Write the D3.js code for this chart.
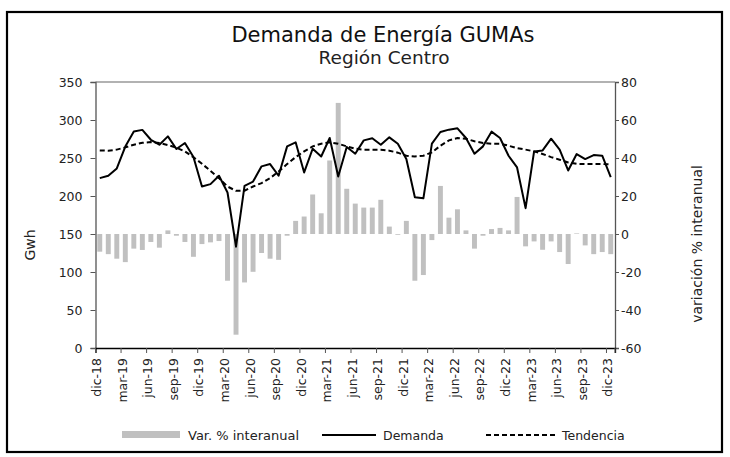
<!DOCTYPE html>
<html><head><meta charset="utf-8">
<script src="https://cdn.jsdelivr.net/npm/d3@7"></script>
<style>
html,body{margin:0;padding:0;background:#fff;}
svg{display:block;font-family:"DejaVu Sans",sans-serif;}
</style></head>
<body>
<script>
const meses = ["dic-18","ene-19","feb-19","mar-19","abr-19","may-19","jun-19","jul-19","ago-19","sep-19","oct-19","nov-19",
"dic-19","ene-20","feb-20","mar-20","abr-20","may-20","jun-20","jul-20","ago-20","sep-20","oct-20","nov-20",
"dic-20","ene-21","feb-21","mar-21","abr-21","may-21","jun-21","jul-21","ago-21","sep-21","oct-21","nov-21",
"dic-21","ene-22","feb-22","mar-22","abr-22","may-22","jun-22","jul-22","ago-22","sep-22","oct-22","nov-22",
"dic-22","ene-23","feb-23","mar-23","abr-23","may-23","jun-23","jul-23","ago-23","sep-23","oct-23","nov-23","dic-23"];
const variacion = [-9.3,-10.6,-13.0,-14.8,-7.7,-8.4,-4.2,-7.2,1.9,-0.9,-4.2,-12.0,
-5.3,-4.4,-3.7,-24.6,-53.0,-25.5,-19.9,-10.0,-13.0,-13.6,-0.9,6.9,
9.2,20.8,10.9,38.7,69.0,23.8,16.0,13.9,13.9,18.0,3.9,-0.4,
6.9,-24.6,-21.6,-3.2,25.3,8.6,13.0,1.9,-7.7,-0.9,2.6,3.2,
1.9,19.5,-6.5,-3.9,-8.3,-3.9,-9.5,-15.8,0.3,-6.0,-10.6,-9.5,-10.6];
const demanda = [223.5,226.6,236.3,265,285,287,274,267.5,278.5,261.8,269.7,251.2,
212.5,215.6,226.6,204.6,133.3,213.4,219,239,242,226.6,265.3,270.6,
231,262.2,252,276.3,225.7,264.4,255.6,273.2,275.9,267.5,277.2,268.8,
248.6,198.4,197,268.8,284.2,287.3,289,276.3,255.6,265.3,284.7,276.3,
253,237.6,184,258.7,260,275.4,261,233.6,255.2,248.6,253.9,253,224.8];
const tendencia = [260,259.6,261,264,267.5,270,271,269.7,267,263.6,258.7,251,
242.4,233,223.5,212.5,206.8,207,212.5,217,223.5,232.3,242,251.2,
258.7,265.3,268.8,270.6,268.8,265.3,262.2,261,261,261,259.6,257,
253,252.1,253,257.4,266.2,273.2,276.3,275.4,272,269.7,268.8,268.8,
266.2,263,261,258.7,255.2,251.2,247.7,244.2,242.4,242,242,242,241.6];
const ticksIzq = [0,50,100,150,200,250,300,350];
const ticksDer = [-60,-40,-20,0,20,40,60,80];
const titulo = "Demanda de Energía GUMAs";
const subtitulo = "Región Centro";
const leyenda = ["Var. % interanual","Demanda","Tendencia"];

const W = 730, H = 457;
const m = {l:95.5, r:615, t:82, b:348};
const svg = d3.select("body").append("svg").attr("width",W).attr("height",H);

// frame
svg.append("rect").attr("x",7).attr("y",12).attr("width",715).attr("height",440)
  .attr("fill","none").attr("stroke","#000").attr("stroke-width",2.2);

const x = d3.scaleBand().domain(meses).range([m.l,m.r]).paddingInner(0.42).paddingOuter(0.21);
const xc = d3.scaleBand().domain(meses).range([m.l,m.r]);
const yL = d3.scaleLinear().domain([0,350]).range([m.b,m.t]);
const yR = d3.scaleLinear().domain([-60,80]).range([m.b,m.t]);

// title
svg.append("text").attr("x",383).attr("y",42).attr("text-anchor","middle")
  .attr("font-size",21).attr("fill","#111").text(titulo);
svg.append("text").attr("x",384).attr("y",64).attr("text-anchor","middle")
  .attr("font-size",18.5).attr("fill","#222").text(subtitulo);

// bars
svg.append("g").selectAll("rect").data(meses).join("rect")
  .attr("x",d=>x(d)).attr("width",x.bandwidth())
  .attr("y",(d,i)=>Math.min(yR(0),yR(variacion[i])))
  .attr("height",(d,i)=>Math.abs(yR(variacion[i])-yR(0)))
  .attr("fill","#c0c0c0");

// lines
const lineD = d3.line().x((d,i)=>xc(meses[i])+xc.bandwidth()/2).y(d=>yL(d));
svg.append("path").datum(tendencia).attr("d",lineD).attr("fill","none")
  .attr("stroke","#000").attr("stroke-width",2).attr("stroke-dasharray","5,3");
svg.append("path").datum(demanda).attr("d",lineD).attr("fill","none")
  .attr("stroke","#000").attr("stroke-width",2).attr("stroke-linejoin","round");

// axes
const fmt = d => String(d);
const axL = d3.axisLeft(yL).tickValues(ticksIzq).tickFormat(fmt).tickSize(5).tickPadding(8);
const gL = svg.append("g").attr("transform",`translate(${m.l},0)`).call(axL);
const axR = d3.axisRight(yR).tickValues(ticksDer).tickFormat(fmt).tickSize(4).tickPadding(2);
const gR = svg.append("g").attr("transform",`translate(${m.r},0)`).call(axR);
svg.append("line").attr("x1",m.l).attr("x2",m.r).attr("y1",m.t).attr("y2",m.t).attr("stroke","#666").attr("stroke-width",1.2);

const tickIdx = meses.filter((d,i)=>i%3===0);
const axB = d3.axisBottom(xc).tickValues(tickIdx).tickSize(5).tickPadding(6);
const gB = svg.append("g").attr("transform",`translate(0,${m.b})`).call(axB);
gB.selectAll(".tick line").attr("transform",`translate(${-xc.bandwidth()/2},0)`);
gB.selectAll(".tick text").attr("transform","rotate(-90)").attr("text-anchor","end")
  .attr("dx","0").attr("dy","0").attr("x",-10).attr("y",1.5);
gB.append("line").attr("x1",m.r).attr("x2",m.r).attr("y1",0).attr("y2",5).attr("stroke","#555");

[gL,gR,gB].forEach(g=>{
  g.selectAll("text").attr("font-size",12.5).attr("fill","#222").attr("font-family","DejaVu Sans");
  g.selectAll(".domain").attr("stroke","#555").attr("stroke-width",1.3);
  g.selectAll(".tick line").attr("stroke","#555");
});
gB.select(".domain").attr("stroke","#000");

// axis titles
svg.append("text").attr("transform",`translate(35,245) rotate(-90)`).attr("text-anchor","middle")
  .attr("font-size",14).attr("fill","#222").text("Gwh");
svg.append("text").attr("transform",`translate(702,244) rotate(-90)`).attr("text-anchor","middle")
  .attr("font-size",14).attr("fill","#222").text("variación % interanual");

// legend
const ly = 435;
svg.append("rect").attr("x",122).attr("y",ly-4).attr("width",58).attr("height",7).attr("fill","#c0c0c0");
svg.append("text").attr("x",188).attr("y",ly+5).attr("font-size",13).attr("fill","#222").text(leyenda[0]);
svg.append("line").attr("x1",322).attr("x2",376).attr("y1",ly).attr("y2",ly).attr("stroke","#000").attr("stroke-width",2);
svg.append("text").attr("x",383).attr("y",ly+5).attr("font-size",12.5).attr("fill","#222").text(leyenda[1]);
svg.append("line").attr("x1",486).attr("x2",556).attr("y1",ly).attr("y2",ly).attr("stroke","#000").attr("stroke-width",2).attr("stroke-dasharray","5,3");
svg.append("text").attr("x",562).attr("y",ly+5).attr("font-size",12.5).attr("fill","#222").text(leyenda[2]);
</script>
</body></html>
